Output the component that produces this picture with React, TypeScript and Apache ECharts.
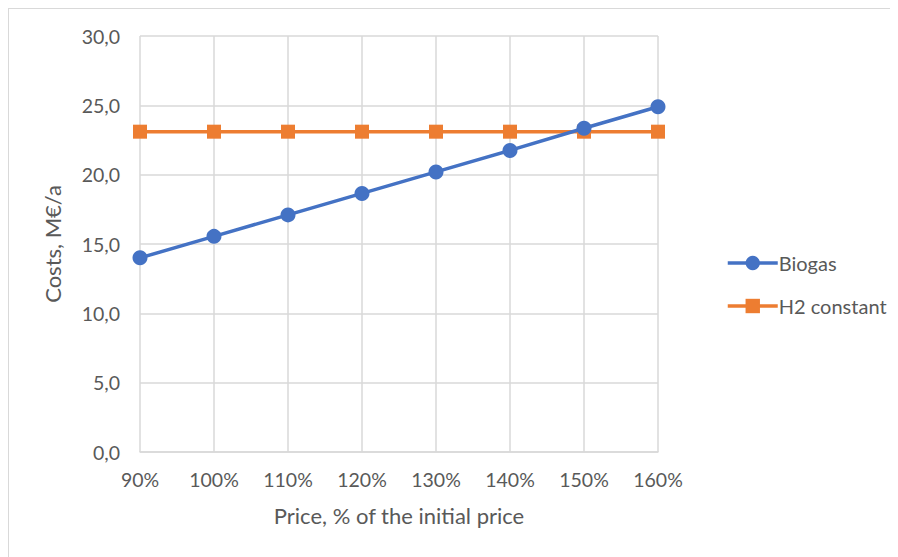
import React, { useEffect, useRef } from "react";
import * as echarts from "echarts";

const categories = ["90%", "100%", "110%", "120%", "130%", "140%", "150%", "160%"];
const biogas = [14.0, 15.55, 17.1, 18.65, 20.2, 21.75, 23.35, 24.9];
const h2Constant = [23.1, 23.1, 23.1, 23.1, 23.1, 23.1, 23.1, 23.1];

const FONT = "Lato, 'Open Sans', sans-serif";
const TEXT = "#595959";

export default function App() {
  const ref = useRef<HTMLDivElement>(null);

  useEffect(() => {
    if (!ref.current) return;
    const chart = echarts.init(ref.current, null, { renderer: "svg" });
    chart.setOption({
      animation: false,
      backgroundColor: "#ffffff",
      textStyle: { fontFamily: FONT },
      grid: { left: 131, top: 27, width: 518, height: 416, containLabel: false },
      xAxis: {
        type: "category",
        data: categories,
        boundaryGap: false,
        name: "Price, % of the initial price",
        nameLocation: "middle",
        nameGap: 52,
        nameTextStyle: { color: TEXT, fontSize: 22, fontFamily: FONT },
        axisLine: { lineStyle: { color: "#d9d9d9", width: 1.5 } },
        axisTick: { show: false },
        axisLabel: { color: TEXT, fontSize: 19.5, margin: 17, fontFamily: FONT },
        splitLine: { show: true, lineStyle: { color: "#d9d9d9", width: 1.5 } },
      },
      yAxis: {
        type: "value",
        min: 0,
        max: 30,
        interval: 5,
        name: "Costs, M\u20ac/a",
        nameLocation: "middle",
        nameGap: 77,
        nameTextStyle: { color: TEXT, fontSize: 22, fontFamily: FONT },
        axisLine: { show: false },
        axisTick: { show: false },
        axisLabel: {
          color: TEXT,
          fontSize: 19.5,
          margin: 20,
          fontFamily: FONT,
          formatter: (v: number) => v.toFixed(1).replace(".", ","),
        },
        splitLine: { show: true, lineStyle: { color: "#d9d9d9", width: 1.5 } },
      },
      legend: {
        orient: "vertical",
        left: 712,
        top: 239,
        itemWidth: 50,
        itemHeight: 18,
        itemGap: 23,
        lineStyle: { width: 3.5 },
        textStyle: { color: TEXT, fontSize: 20, fontFamily: FONT, padding: [0, 0, 0, -4] },
        data: ["Biogas", "H2 constant"],
      },
      series: [
        {
          name: "Biogas",
          type: "line",
          data: biogas,
          symbol: "circle",
          symbolSize: 15,
          lineStyle: { color: "#4472C4", width: 3.5 },
          itemStyle: { color: "#4472C4" },
        },
        {
          name: "H2 constant",
          type: "line",
          data: h2Constant,
          symbol: "rect",
          symbolSize: 14,
          lineStyle: { color: "#ED7D31", width: 3.5 },
          itemStyle: { color: "#ED7D31" },
          z: 1,
        },
      ],
    });
    return () => chart.dispose();
  }, []);

  return (
    <div
      ref={ref}
      style={{
        width: 890,
        height: 549,
        borderLeft: "1px solid #d9d9d9",
        borderTop: "1px solid #d9d9d9",
        boxSizing: "border-box",
      }}
    />
  );
}
